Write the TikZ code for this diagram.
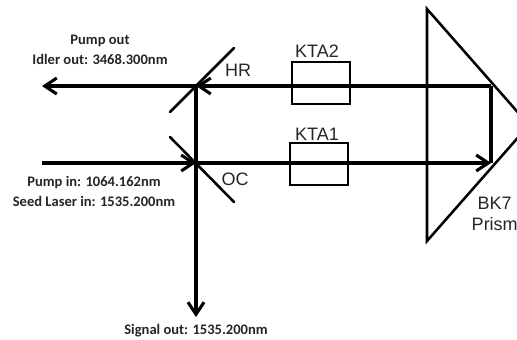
\documentclass[tikz,border=0pt]{standalone}
\usepackage{fontspec}
\setmainfont{Liberation Sans}
\newfontfamily\smallf{Carlito}
\usetikzlibrary{arrows.meta}
\tikzset{
  beam/.style={line width=2.3pt},
  tipbeam/.style={beam,-{Straight Barb[length=9pt,width=12pt,line width=2.3pt]}},
  optic/.style={line width=1.9pt},
  crystal/.style={draw,line width=1.6pt,minimum width=43.5pt,minimum height=31.5pt,inner sep=0pt},
  biglabel/.style={inner sep=0pt,font=\fontsize{13.5}{15.5}\selectfont,text=black!85,align=center},
  smalllabel/.style={inner sep=0pt,font=\smallf\bfseries\fontsize{10.9}{14}\selectfont,text=black!85,align=center}
}
\begin{document}
\begin{tikzpicture}[x=0.75pt,y=-0.75pt]
\useasboundingbox (0,0) rectangle (517,339);
\clip (0,0) rectangle (517,339);
\fill[white] (0,0) rectangle (517,339);
% anchors
\coordinate (hrA) at (170,112);
\coordinate (hrB) at (234,48);
\coordinate (ocA) at (170,137);
\coordinate (ocB) at (234,202);
\coordinate (hrC) at (196,86);
\coordinate (ocC) at (196,163);
\coordinate (idlerEnd) at (42,86);
\coordinate (pumpStart) at (42,163);
\coordinate (signalEnd) at (196,317);
\coordinate (prTop) at (427,9);
\coordinate (prBot) at (427,241);
\coordinate (prTip) at (529,125);
\coordinate (prU) at (491,86);
\coordinate (prL) at (491,163);
% crystals
\node[crystal] (kta2) at (321,83) {};
\node[crystal] (kta1) at (319,164) {};
% beams
\draw[tipbeam] (prU) -- (hrC);
\draw[tipbeam] (hrC) -- (idlerEnd);
\draw[tipbeam] (pumpStart) -- (ocC);
\draw[tipbeam] (ocC) -- (prL);
\draw[beam] (prL) -- (prU);
\draw[tipbeam] (hrC) -- (signalEnd);
% optics
\draw[optic,line cap=round] (hrA) -- (hrB);
\draw[optic,line cap=round] (ocA) -- (ocB);
\draw[optic,line join=miter] (prBot) -- (prTop) -- (prTip) -- cycle;
% labels
\node[biglabel] (hr) at (238,70) {HR};
\node[biglabel] (oc) at (235,179) {OC};
\node[biglabel] (kta2t) at (317,51) {KTA2};
\node[biglabel] (kta1t) at (317,134) {KTA1};
\node[biglabel,anchor=north east] (bk) at (518,197) {BK7\\[0pt]Prism};
\node[smalllabel] (pout) at (100,41) {Pump out};
\node[smalllabel] (iout) at (100,59) {Idler out: 3468.300nm};
\node[smalllabel] (pin) at (94,183) {Pump in: 1064.162nm};
\node[smalllabel] (sin) at (94,201) {Seed Laser in: 1535.200nm};
\node[smalllabel] (sout) at (196,331) {Signal out: 1535.200nm};
\end{tikzpicture}
\end{document}
